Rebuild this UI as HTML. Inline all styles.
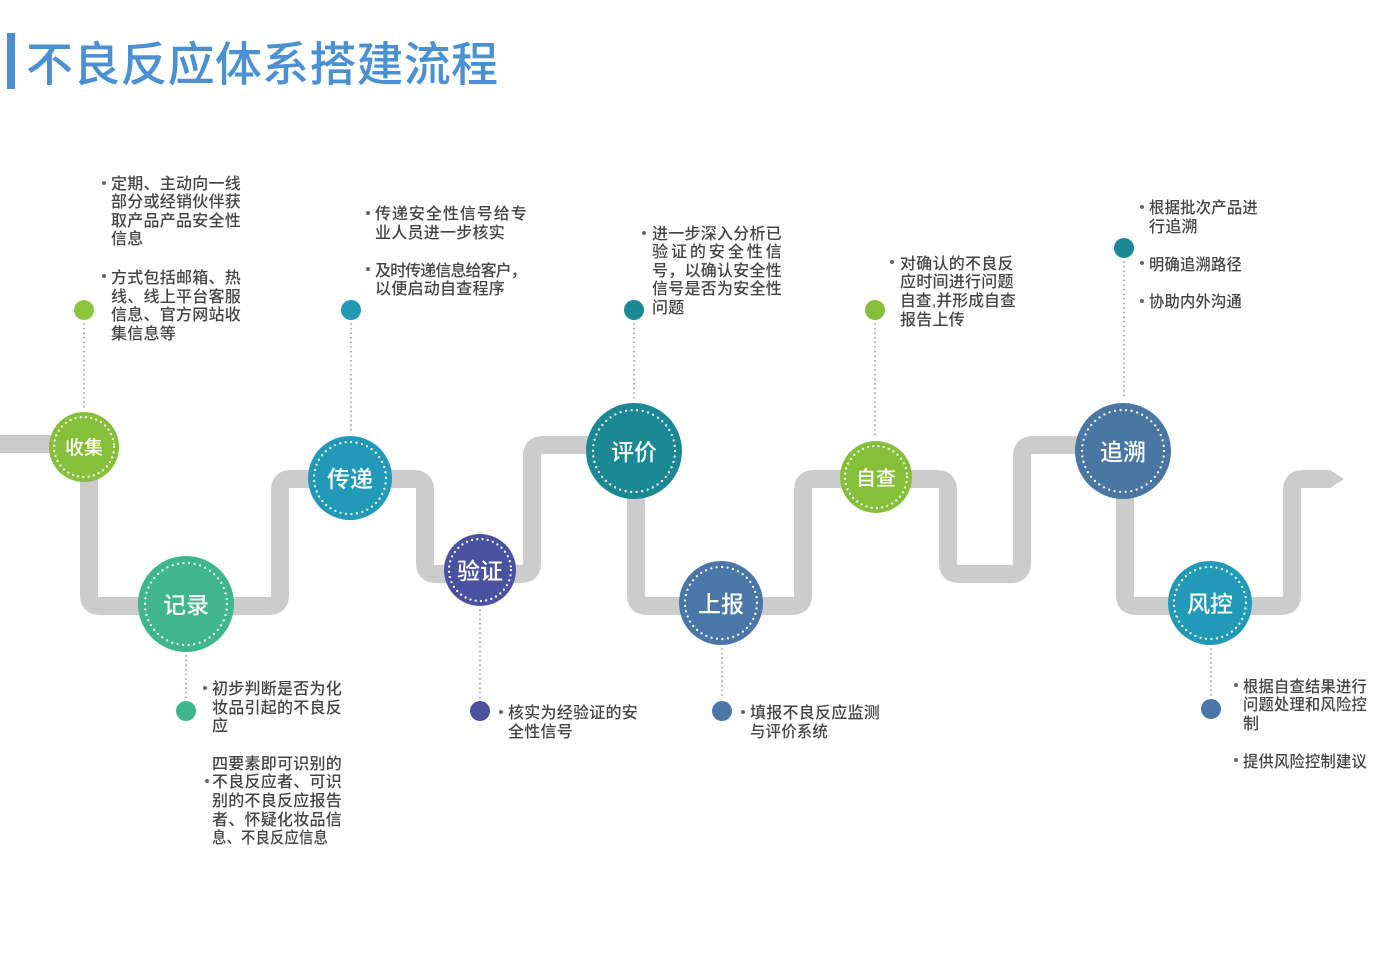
<!DOCTYPE html>
<html><head><meta charset="utf-8">
<style>
html,body{margin:0;padding:0;background:#fff;}
svg{display:block;}
.t{font-family:"Liberation Sans","Noto Sans CJK SC",sans-serif;font-size:16px;fill:#444;font-weight:500;letter-spacing:0.25px;}
.n{font-family:"Liberation Sans","Noto Sans CJK SC",sans-serif;fill:#fff;text-anchor:middle;font-weight:500;}
</style></head>
<body>
<svg width="1400" height="970" viewBox="0 0 1400 970" xmlns="http://www.w3.org/2000/svg">
<rect width="1400" height="970" fill="#fff"/>
<!-- title -->
<rect x="7" y="33" width="8" height="56" fill="#4a90d2"/>
<text x="26" y="81" font-family="Liberation Sans, Noto Sans CJK SC, sans-serif" font-size="47" font-weight="500" fill="#4a90d2" textLength="472" lengthAdjust="spacing">不良反应体系搭建流程</text>

<!-- pipe -->
<path d="M0 444 H78 Q89 444 89 455 V595 Q89 606 100 606 H269 Q280 606 280 595 V490 Q280 479 291 479 H414 Q425 479 425 490 V563 Q425 574 436 574 H521 Q532 574 532 563 V456 Q532 445 543 445 H625 Q636 445 636 456 V595 Q636 606 647 606 H792 Q803 606 803 595 V490 Q803 479 814 479 H937 Q948 479 948 490 V563 Q948 574 959 574 H1011 Q1022 574 1022 563 V456 Q1022 445 1033 445 H1114 Q1125 445 1125 456 V595 Q1125 606 1136 606 H1281 Q1292 606 1292 595 V490 Q1292 479 1303 479 H1331" fill="none" stroke="#cccccc" stroke-width="18"/>
<polygon points="1330,470 1344,479 1330,488" fill="#cccccc"/>

<!-- dotted connectors -->
<g stroke="#9a9a9a" stroke-width="1.8" stroke-linecap="round" stroke-dasharray="0 4.6" fill="none">
<line x1="84" y1="324" x2="84" y2="408"/>
<line x1="351" y1="324" x2="351" y2="433"/>
<line x1="634" y1="324" x2="634" y2="398"/>
<line x1="875" y1="324" x2="875" y2="437"/>
<line x1="1124" y1="262" x2="1124" y2="397"/>
<line x1="186" y1="656" x2="186" y2="698"/>
<line x1="480" y1="610" x2="480" y2="698"/>
<line x1="722" y1="649" x2="722" y2="698"/>
<line x1="1211" y1="649" x2="1211" y2="696"/>
</g>

<!-- markers -->
<circle cx="84" cy="310" r="10" fill="#8cc63f"/>
<circle cx="351" cy="310" r="10" fill="#2399b8"/>
<circle cx="634" cy="310" r="10" fill="#1c8896"/>
<circle cx="875" cy="310" r="10" fill="#86bf3a"/>
<circle cx="1124" cy="248" r="10" fill="#1c8896"/>
<circle cx="186" cy="711" r="10" fill="#3fb68e"/>
<circle cx="480" cy="711" r="10" fill="#4a52a0"/>
<circle cx="722" cy="711" r="10" fill="#4a76a8"/>
<circle cx="1211" cy="709" r="10" fill="#4a76a8"/>

<!-- nodes -->
<g>
<circle cx="84" cy="447" r="35" fill="#86bf3a"/>
<circle cx="84" cy="447" r="30" fill="none" stroke="#fff" stroke-width="2.3" stroke-linecap="round" stroke-dasharray="0 5.3"/>
<text class="n" x="84" y="454" font-size="19">收集</text>

<circle cx="186" cy="604" r="48" fill="#3fb68e"/>
<circle cx="186" cy="604" r="41" fill="none" stroke="#fff" stroke-width="2.3" stroke-linecap="round" stroke-dasharray="0 5.6"/>
<text class="n" x="186" y="613" font-size="23">记录</text>

<circle cx="350" cy="478" r="42" fill="#2399b8"/>
<circle cx="350" cy="478" r="36" fill="none" stroke="#fff" stroke-width="2.3" stroke-linecap="round" stroke-dasharray="0 5.5"/>
<text class="n" x="350" y="487" font-size="23">传递</text>

<circle cx="480" cy="570" r="36" fill="#4a52a0"/>
<circle cx="480" cy="570" r="31" fill="none" stroke="#fff" stroke-width="2.3" stroke-linecap="round" stroke-dasharray="0 5.3"/>
<text class="n" x="480" y="579" font-size="23" font-weight="700">验证</text>

<circle cx="634" cy="451" r="48" fill="#1c8896"/>
<circle cx="634" cy="451" r="41" fill="none" stroke="#fff" stroke-width="2.3" stroke-linecap="round" stroke-dasharray="0 5.6"/>
<text class="n" x="634" y="460" font-size="23">评价</text>

<circle cx="721" cy="603" r="42" fill="#4a76a8"/>
<circle cx="721" cy="603" r="36" fill="none" stroke="#fff" stroke-width="2.3" stroke-linecap="round" stroke-dasharray="0 5.5"/>
<text class="n" x="721" y="612" font-size="23">上报</text>

<circle cx="876" cy="477" r="36" fill="#86bf3a"/>
<circle cx="876" cy="477" r="31" fill="none" stroke="#fff" stroke-width="2.3" stroke-linecap="round" stroke-dasharray="0 5.3"/>
<text class="n" x="876" y="485" font-size="20">自查</text>

<circle cx="1123" cy="451" r="48" fill="#4a76a4"/>
<circle cx="1123" cy="451" r="41" fill="none" stroke="#fff" stroke-width="2.3" stroke-linecap="round" stroke-dasharray="0 5.6"/>
<text class="n" x="1123" y="460" font-size="23">追溯</text>

<circle cx="1210" cy="603" r="42" fill="#2399b8"/>
<circle cx="1210" cy="603" r="36" fill="none" stroke="#fff" stroke-width="2.3" stroke-linecap="round" stroke-dasharray="0 5.5"/>
<text class="n" x="1210" y="612" font-size="23">风控</text>
</g>

<!-- bullets -->
<g fill="#666">
<circle cx="104" cy="183" r="2"/>
<circle cx="104" cy="276" r="2"/>
<circle cx="368" cy="213" r="2"/>
<circle cx="368" cy="269" r="2"/>
<circle cx="644" cy="233" r="2"/>
<circle cx="892" cy="262" r="2"/>
<circle cx="1142" cy="207" r="2"/>
<circle cx="1142" cy="263" r="2"/>
<circle cx="1142" cy="301" r="2"/>
<circle cx="205" cy="688" r="2"/>
<circle cx="207" cy="781" r="2"/>
<circle cx="501" cy="712" r="2"/>
<circle cx="743" cy="712" r="2"/>
<circle cx="1236" cy="685" r="2"/>
<circle cx="1236" cy="760" r="2"/>
</g>

<!-- text blocks -->
<g class="t">
<text x="111" y="189" class="t" textLength="130" lengthAdjust="spacing">定期、主动向一线</text>
<text x="111" y="207" class="t" textLength="130" lengthAdjust="spacing">部分或经销伙伴获</text>
<text x="111" y="226" class="t" textLength="130" lengthAdjust="spacing">取产品产品安全性</text>
<text x="111" y="244" class="t">信息</text>
<text x="111" y="283" class="t" textLength="130" lengthAdjust="spacing">方式包括邮箱、热</text>
<text x="111" y="302" class="t" textLength="130" lengthAdjust="spacing">线、线上平台客服</text>
<text x="111" y="320" class="t" textLength="130" lengthAdjust="spacing">信息、官方网站收</text>
<text x="111" y="339" class="t">集信息等</text>

<text x="375" y="219" class="t" textLength="152" lengthAdjust="spacing">传递安全性信号给专</text>
<text x="375" y="238" class="t">业人员进一步核实</text>
<text x="375" y="276" class="t" textLength="152" lengthAdjust="spacing">及时传递信息给客户，</text>
<text x="375" y="294" class="t">以便启动自查程序</text>

<text x="652" y="239" class="t" textLength="130" lengthAdjust="spacing">进一步深入分析已</text>
<text x="652" y="257" class="t" textLength="130" lengthAdjust="spacing">验证的安全性信</text>
<text x="652" y="276" class="t" textLength="130" lengthAdjust="spacing">号，以确认安全性</text>
<text x="652" y="294" class="t" textLength="130" lengthAdjust="spacing">信号是否为安全性</text>
<text x="652" y="313" class="t">问题</text>

<text x="900" y="269" class="t">对确认的不良反</text>
<text x="900" y="287" class="t">应时间进行问题</text>
<text x="900" y="306" class="t" textLength="116" lengthAdjust="spacingAndGlyphs">自查,并形成自查</text>
<text x="900" y="325" class="t">报告上传</text>

<text x="1149" y="213" class="t" textLength="109" lengthAdjust="spacingAndGlyphs">根据批次产品进</text>
<text x="1149" y="232" class="t">行追溯</text>
<text x="1149" y="270" class="t" textLength="93" lengthAdjust="spacingAndGlyphs">明确追溯路径</text>
<text x="1149" y="307" class="t" textLength="93" lengthAdjust="spacingAndGlyphs">协助内外沟通</text>

<text x="212" y="694" class="t" textLength="130" lengthAdjust="spacing">初步判断是否为化</text>
<text x="212" y="713" class="t" textLength="130" lengthAdjust="spacing">妆品引起的不良反</text>
<text x="212" y="731" class="t">应</text>
<text x="212" y="769" class="t" textLength="130" lengthAdjust="spacing">四要素即可识别的</text>
<text x="212" y="787" class="t" textLength="130" lengthAdjust="spacing">不良反应者、可识</text>
<text x="212" y="806" class="t" textLength="130" lengthAdjust="spacing">别的不良反应报告</text>
<text x="212" y="825" class="t" textLength="130" lengthAdjust="spacing">者、怀疑化妆品信</text>
<text x="212" y="843" class="t" textLength="116" lengthAdjust="spacingAndGlyphs">息、不良反应信息</text>

<text x="508" y="718" class="t" textLength="130" lengthAdjust="spacing">核实为经验证的安</text>
<text x="508" y="737" class="t">全性信号</text>

<text x="750" y="718" class="t" textLength="130" lengthAdjust="spacing">填报不良反应监测</text>
<text x="750" y="737" class="t" textLength="78" lengthAdjust="spacingAndGlyphs">与评价系统</text>

<text x="1243" y="692" class="t" textLength="124" lengthAdjust="spacingAndGlyphs">根据自查结果进行</text>
<text x="1243" y="710" class="t" textLength="124" lengthAdjust="spacingAndGlyphs">问题处理和风险控</text>
<text x="1243" y="729" class="t">制</text>
<text x="1243" y="767" class="t" textLength="124" lengthAdjust="spacingAndGlyphs">提供风险控制建议</text>
</g>
</svg>
</body></html>
